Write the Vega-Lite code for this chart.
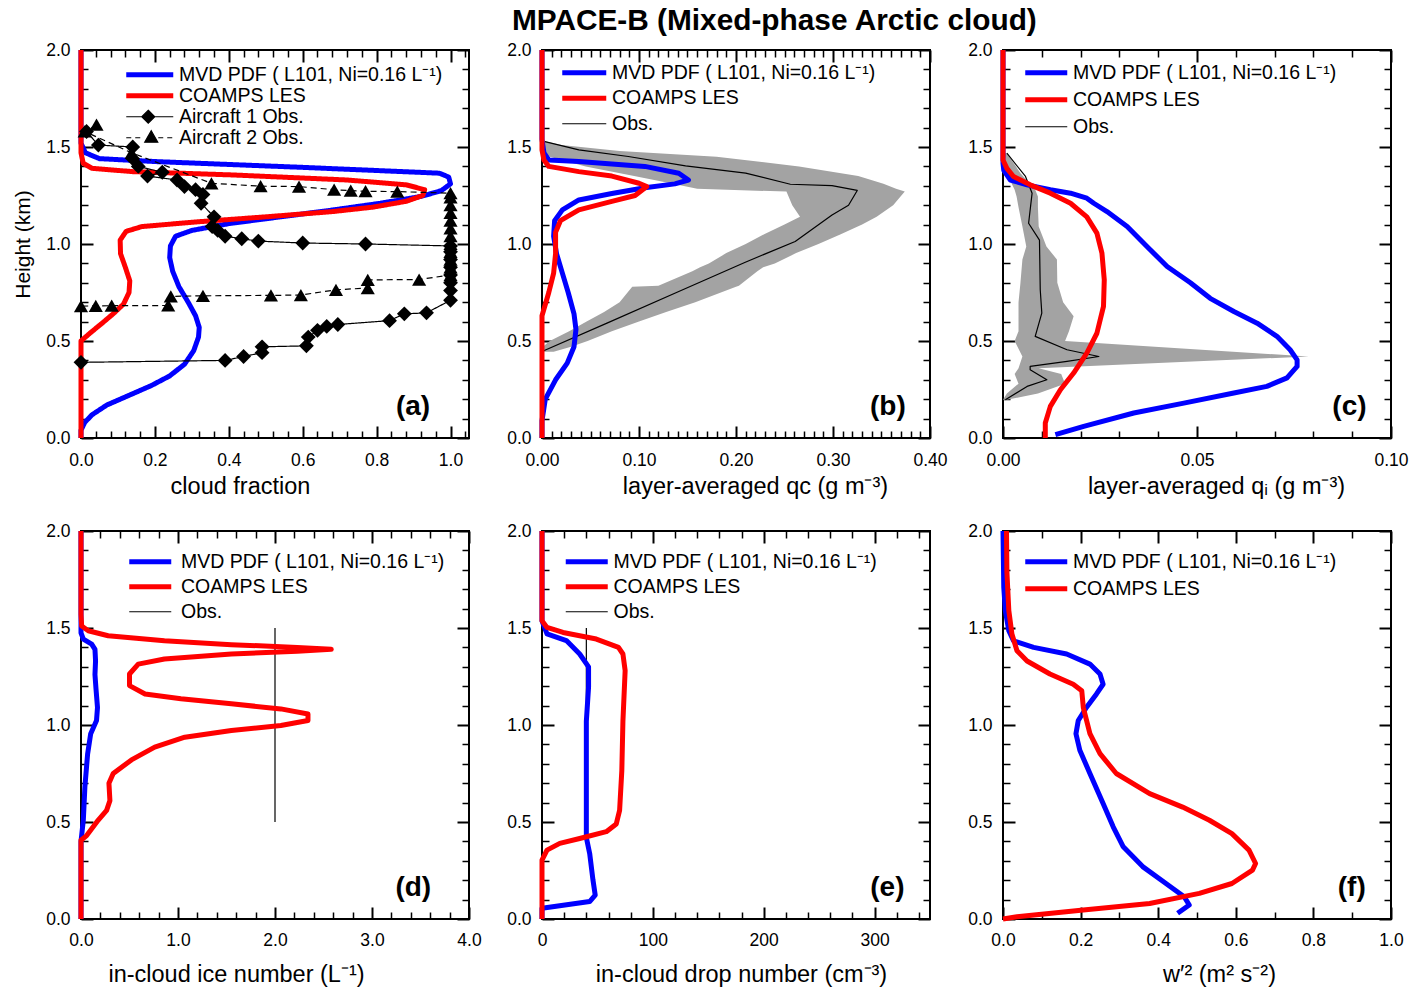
{
  "$schema": "https://vega.github.io/schema/vega-lite/v6.json",
  "background": "white",
  "padding": {"left": 11, "top": 6, "right": 5, "bottom": 5},
  "title": {"text": "MPACE-B (Mixed-phase Arctic cloud)", "font": "Liberation Sans", "fontSize": 29.8, "fontWeight": "bold", "color": "#000000", "anchor": "middle", "dx": 64, "offset": 4},
  "datasets": {
    "a": [
      {"s":"MVD","x":0,"h":0},{"s":"MVD","x":0,"h":0.04},{"s":"MVD","x":0.01,"h":0.08},{"s":"MVD","x":0.03,"h":0.12},{"s":"MVD","x":0.07,"h":0.17},{"s":"MVD","x":0.13,"h":0.22},{"s":"MVD","x":0.19,"h":0.27},{"s":"MVD","x":0.24,"h":0.32},{"s":"MVD","x":0.28,"h":0.38},{"s":"MVD","x":0.305,"h":0.45},{"s":"MVD","x":0.318,"h":0.52},{"s":"MVD","x":0.32,"h":0.57},{"s":"MVD","x":0.31,"h":0.63},{"s":"MVD","x":0.29,"h":0.7},{"s":"MVD","x":0.265,"h":0.78},{"s":"MVD","x":0.248,"h":0.86},{"s":"MVD","x":0.24,"h":0.93},{"s":"MVD","x":0.242,"h":0.99},{"s":"MVD","x":0.256,"h":1.04},{"s":"MVD","x":0.3,"h":1.07},{"s":"MVD","x":0.4,"h":1.105},{"s":"MVD","x":0.54,"h":1.14},{"s":"MVD","x":0.68,"h":1.175},{"s":"MVD","x":0.81,"h":1.21},{"s":"MVD","x":0.92,"h":1.245},{"s":"MVD","x":0.975,"h":1.275},{"s":"MVD","x":1,"h":1.31},{"s":"MVD","x":0.995,"h":1.345},{"s":"MVD","x":0.97,"h":1.365},{"s":"MVD","x":0.6,"h":1.395},{"s":"MVD","x":0.2,"h":1.425},{"s":"MVD","x":0.05,"h":1.44},{"s":"MVD","x":0.012,"h":1.47},{"s":"MVD","x":0,"h":1.52},{"s":"MVD","x":0,"h":2},
      {"s":"LES","x":0,"h":0},{"s":"LES","x":0,"h":0.5},{"s":"LES","x":0.024,"h":0.54},{"s":"LES","x":0.056,"h":0.59},{"s":"LES","x":0.087,"h":0.64},{"s":"LES","x":0.115,"h":0.69},{"s":"LES","x":0.13,"h":0.75},{"s":"LES","x":0.132,"h":0.81},{"s":"LES","x":0.12,"h":0.88},{"s":"LES","x":0.107,"h":0.95},{"s":"LES","x":0.106,"h":1.02},{"s":"LES","x":0.122,"h":1.065},{"s":"LES","x":0.165,"h":1.09},{"s":"LES","x":0.32,"h":1.115},{"s":"LES","x":0.5,"h":1.14},{"s":"LES","x":0.68,"h":1.167},{"s":"LES","x":0.79,"h":1.19},{"s":"LES","x":0.88,"h":1.22},{"s":"LES","x":0.925,"h":1.25},{"s":"LES","x":0.93,"h":1.28},{"s":"LES","x":0.88,"h":1.305},{"s":"LES","x":0.72,"h":1.33},{"s":"LES","x":0.41,"h":1.356},{"s":"LES","x":0.14,"h":1.373},{"s":"LES","x":0.03,"h":1.39},{"s":"LES","x":0.006,"h":1.416},{"s":"LES","x":0,"h":1.47},{"s":"LES","x":0,"h":2},
      {"s":"Air1","x":0,"h":0.39},{"s":"Air1","x":0.39,"h":0.4},{"s":"Air1","x":0.44,"h":0.42},{"s":"Air1","x":0.49,"h":0.44},{"s":"Air1","x":0.49,"h":0.47},{"s":"Air1","x":0.61,"h":0.475},{"s":"Air1","x":0.615,"h":0.52},{"s":"Air1","x":0.64,"h":0.555},{"s":"Air1","x":0.665,"h":0.575},{"s":"Air1","x":0.695,"h":0.585},{"s":"Air1","x":0.835,"h":0.605},{"s":"Air1","x":0.875,"h":0.64},{"s":"Air1","x":0.935,"h":0.645},{"s":"Air1","x":1,"h":0.71},{"s":"Air1","x":1,"h":0.76},{"s":"Air1","x":1,"h":0.8},{"s":"Air1","x":1,"h":0.84},{"s":"Air1","x":1,"h":0.88},{"s":"Air1","x":1,"h":0.92},{"s":"Air1","x":1,"h":0.96},{"s":"Air1","x":1,"h":0.99},{"s":"Air1","x":0.77,"h":1.0},{"s":"Air1","x":0.6,"h":1.005},{"s":"Air1","x":0.48,"h":1.015},{"s":"Air1","x":0.435,"h":1.027},{"s":"Air1","x":0.39,"h":1.04},{"s":"Air1","x":0.37,"h":1.07},{"s":"Air1","x":0.355,"h":1.09},{"s":"Air1","x":0.36,"h":1.14},{"s":"Air1","x":0.325,"h":1.21},{"s":"Air1","x":0.33,"h":1.255},{"s":"Air1","x":0.31,"h":1.28},{"s":"Air1","x":0.28,"h":1.296},{"s":"Air1","x":0.26,"h":1.33},{"s":"Air1","x":0.18,"h":1.35},{"s":"Air1","x":0.22,"h":1.37},{"s":"Air1","x":0.155,"h":1.4},{"s":"Air1","x":0.14,"h":1.44},{"s":"Air1","x":0.14,"h":1.5},{"s":"Air1","x":0.047,"h":1.51},{"s":"Air1","x":0.015,"h":1.58},
      {"s":"Air2","x":0,"h":0.68},{"s":"Air2","x":0.04,"h":0.681},{"s":"Air2","x":0.083,"h":0.682},{"s":"Air2","x":0.236,"h":0.683},{"s":"Air2","x":0.243,"h":0.73},{"s":"Air2","x":0.33,"h":0.733},{"s":"Air2","x":0.514,"h":0.735},{"s":"Air2","x":0.595,"h":0.737},{"s":"Air2","x":0.69,"h":0.764},{"s":"Air2","x":0.776,"h":0.773},{"s":"Air2","x":0.776,"h":0.815},{"s":"Air2","x":0.915,"h":0.817},{"s":"Air2","x":1,"h":0.84},{"s":"Air2","x":1,"h":0.88},{"s":"Air2","x":1,"h":0.92},{"s":"Air2","x":1,"h":0.96},{"s":"Air2","x":1,"h":1.0},{"s":"Air2","x":1,"h":1.04},{"s":"Air2","x":1,"h":1.08},{"s":"Air2","x":1,"h":1.12},{"s":"Air2","x":1,"h":1.16},{"s":"Air2","x":1,"h":1.2},{"s":"Air2","x":1,"h":1.24},{"s":"Air2","x":1,"h":1.262},{"s":"Air2","x":0.856,"h":1.27},{"s":"Air2","x":0.77,"h":1.272},{"s":"Air2","x":0.73,"h":1.275},{"s":"Air2","x":0.685,"h":1.28},{"s":"Air2","x":0.59,"h":1.296},{"s":"Air2","x":0.486,"h":1.298},{"s":"Air2","x":0.353,"h":1.313},{"s":"Air2","x":0.137,"h":1.47},{"s":"Air2","x":0.01,"h":1.58},{"s":"Air2","x":0.042,"h":1.615}
    ],
    "b": [
      {"s":"Obs","x":0,"h":0.446},{"s":"Obs","x":0.067,"h":0.592},{"s":"Obs","x":0.141,"h":0.755},{"s":"Obs","x":0.209,"h":0.905},{"s":"Obs","x":0.261,"h":1.013},{"s":"Obs","x":0.299,"h":1.15},{"s":"Obs","x":0.316,"h":1.2},{"s":"Obs","x":0.325,"h":1.276},{"s":"Obs","x":0.299,"h":1.301},{"s":"Obs","x":0.256,"h":1.308},{"s":"Obs","x":0.21,"h":1.365},{"s":"Obs","x":0.148,"h":1.403},{"s":"Obs","x":0.089,"h":1.451},{"s":"Obs","x":0.038,"h":1.485},{"s":"Obs","x":0.003,"h":1.528},
      {"s":"MVD","x":0,"h":0},{"s":"MVD","x":0,"h":0.09},{"s":"MVD","x":0.0034,"h":0.2},{"s":"MVD","x":0.014,"h":0.3},{"s":"MVD","x":0.026,"h":0.386},{"s":"MVD","x":0.033,"h":0.47},{"s":"MVD","x":0.035,"h":0.56},{"s":"MVD","x":0.033,"h":0.64},{"s":"MVD","x":0.027,"h":0.75},{"s":"MVD","x":0.021,"h":0.85},{"s":"MVD","x":0.015,"h":0.95},{"s":"MVD","x":0.012,"h":1.04},{"s":"MVD","x":0.013,"h":1.12},{"s":"MVD","x":0.021,"h":1.176},{"s":"MVD","x":0.038,"h":1.227},{"s":"MVD","x":0.072,"h":1.26},{"s":"MVD","x":0.106,"h":1.29},{"s":"MVD","x":0.137,"h":1.31},{"s":"MVD","x":0.151,"h":1.33},{"s":"MVD","x":0.141,"h":1.365},{"s":"MVD","x":0.106,"h":1.4},{"s":"MVD","x":0.038,"h":1.425},{"s":"MVD","x":0.007,"h":1.433},{"s":"MVD","x":0.002,"h":1.47},{"s":"MVD","x":0,"h":1.54},{"s":"MVD","x":0,"h":2},
      {"s":"LES","x":0,"h":0},{"s":"LES","x":0,"h":0.63},{"s":"LES","x":0.007,"h":0.75},{"s":"LES","x":0.012,"h":0.85},{"s":"LES","x":0.014,"h":0.95},{"s":"LES","x":0.014,"h":1.06},{"s":"LES","x":0.019,"h":1.12},{"s":"LES","x":0.038,"h":1.176},{"s":"LES","x":0.072,"h":1.22},{"s":"LES","x":0.096,"h":1.25},{"s":"LES","x":0.108,"h":1.296},{"s":"LES","x":0.1,"h":1.313},{"s":"LES","x":0.072,"h":1.35},{"s":"LES","x":0.038,"h":1.373},{"s":"LES","x":0.007,"h":1.4},{"s":"LES","x":0.002,"h":1.433},{"s":"LES","x":0,"h":1.485},{"s":"LES","x":0,"h":2}
    ],
    "b_band": [
      {"h":0.445,"lo":0,"hi":0.012},{"h":0.47,"lo":0.001,"hi":0.03},{"h":0.5,"lo":0.008,"hi":0.047},{"h":0.55,"lo":0.028,"hi":0.072},{"h":0.6,"lo":0.046,"hi":0.1},{"h":0.65,"lo":0.064,"hi":0.128},{"h":0.7,"lo":0.08,"hi":0.158},{"h":0.78,"lo":0.093,"hi":0.2},{"h":0.785,"lo":0.12,"hi":0.203},{"h":0.86,"lo":0.155,"hi":0.222},{"h":0.88,"lo":0.163,"hi":0.228},{"h":0.9,"lo":0.172,"hi":0.24},{"h":0.953,"lo":0.19,"hi":0.262},{"h":1.0,"lo":0.21,"hi":0.285},{"h":1.05,"lo":0.229,"hi":0.308},{"h":1.1,"lo":0.25,"hi":0.33},{"h":1.14,"lo":0.266,"hi":0.345},{"h":1.2,"lo":0.258,"hi":0.362},{"h":1.27,"lo":0.252,"hi":0.374},{"h":1.285,"lo":0.16,"hi":0.365},{"h":1.31,"lo":0.135,"hi":0.352},{"h":1.35,"lo":0.095,"hi":0.326},{"h":1.4,"lo":0.045,"hi":0.265},{"h":1.45,"lo":0.008,"hi":0.18},{"h":1.48,"lo":0,"hi":0.08},{"h":1.51,"lo":0,"hi":0.02},{"h":1.53,"lo":0,"hi":0.003}
    ],
    "c": [
      {"s":"Obs","x":0.0006,"h":0.197},{"s":"Obs","x":0.0062,"h":0.266},{"s":"Obs","x":0.0113,"h":0.3},{"s":"Obs","x":0.007,"h":0.352},{"s":"Obs","x":0.007,"h":0.369},{"s":"Obs","x":0.0165,"h":0.395},{"s":"Obs","x":0.0247,"h":0.42},{"s":"Obs","x":0.0165,"h":0.455},{"s":"Obs","x":0.0083,"h":0.524},{"s":"Obs","x":0.01,"h":0.644},{"s":"Obs","x":0.0096,"h":0.764},{"s":"Obs","x":0.0094,"h":1.02},{"s":"Obs","x":0.0066,"h":1.107},{"s":"Obs","x":0.0075,"h":1.262},{"s":"Obs","x":0.0058,"h":1.348},{"s":"Obs","x":0.001,"h":1.468},
      {"s":"MVD","x":0.0135,"h":0.017},{"s":"MVD","x":0.0208,"h":0.06},{"s":"MVD","x":0.0337,"h":0.129},{"s":"MVD","x":0.0466,"h":0.18},{"s":"MVD","x":0.0595,"h":0.232},{"s":"MVD","x":0.068,"h":0.266},{"s":"MVD","x":0.0732,"h":0.31},{"s":"MVD","x":0.0758,"h":0.369},{"s":"MVD","x":0.0758,"h":0.403},{"s":"MVD","x":0.074,"h":0.455},{"s":"MVD","x":0.0706,"h":0.524},{"s":"MVD","x":0.0655,"h":0.592},{"s":"MVD","x":0.0595,"h":0.652},{"s":"MVD","x":0.0534,"h":0.72},{"s":"MVD","x":0.0483,"h":0.8},{"s":"MVD","x":0.0423,"h":0.884},{"s":"MVD","x":0.0371,"h":0.987},{"s":"MVD","x":0.032,"h":1.09},{"s":"MVD","x":0.0268,"h":1.167},{"s":"MVD","x":0.0234,"h":1.21},{"s":"MVD","x":0.0216,"h":1.236},{"s":"MVD","x":0.0174,"h":1.262},{"s":"MVD","x":0.0122,"h":1.28},{"s":"MVD","x":0.0062,"h":1.305},{"s":"MVD","x":0.0019,"h":1.33},{"s":"MVD","x":0.0002,"h":1.38},{"s":"MVD","x":0,"h":1.416},{"s":"MVD","x":0,"h":2},
      {"s":"LES","x":0.0109,"h":0},{"s":"LES","x":0.0109,"h":0.077},{"s":"LES","x":0.0122,"h":0.163},{"s":"LES","x":0.0148,"h":0.249},{"s":"LES","x":0.0182,"h":0.335},{"s":"LES","x":0.0216,"h":0.438},{"s":"LES","x":0.0242,"h":0.54},{"s":"LES","x":0.0259,"h":0.678},{"s":"LES","x":0.0261,"h":0.815},{"s":"LES","x":0.0255,"h":0.953},{"s":"LES","x":0.0242,"h":1.056},{"s":"LES","x":0.0216,"h":1.14},{"s":"LES","x":0.0174,"h":1.21},{"s":"LES","x":0.0122,"h":1.262},{"s":"LES","x":0.007,"h":1.305},{"s":"LES","x":0.0027,"h":1.348},{"s":"LES","x":0.001,"h":1.39},{"s":"LES","x":0,"h":1.433},{"s":"LES","x":0,"h":2}
    ],
    "c_band": [
      {"h":0.197,"lo":0,"hi":0.001},{"h":0.23,"lo":0.001,"hi":0.009},{"h":0.28,"lo":0.004,"hi":0.016},{"h":0.33,"lo":0.003,"hi":0.015},{"h":0.36,"lo":0.004,"hi":0.0092},{"h":0.42,"lo":0.005,"hi":0.0788},{"h":0.5,"lo":0.003,"hi":0.016},{"h":0.55,"lo":0.004,"hi":0.017},{"h":0.627,"lo":0.004,"hi":0.0182},{"h":0.7,"lo":0.004,"hi":0.0155},{"h":0.8,"lo":0.0045,"hi":0.014},{"h":0.92,"lo":0.005,"hi":0.0139},{"h":0.987,"lo":0.006,"hi":0.0112},{"h":1.09,"lo":0.005,"hi":0.0092},{"h":1.19,"lo":0.004,"hi":0.009},{"h":1.245,"lo":0.0035,"hi":0.009},{"h":1.28,"lo":0.003,"hi":0.0083},{"h":1.365,"lo":0.001,"hi":0.0045},{"h":1.468,"lo":0.0005,"hi":0.001}
    ],
    "d": [
      {"s":"Obs","x":2,"h":0.5},{"s":"Obs","x":2,"h":1.5},
      {"s":"MVD","x":0,"h":0},{"s":"MVD","x":0,"h":0.4},{"s":"MVD","x":0.024,"h":0.51},{"s":"MVD","x":0.04,"h":0.68},{"s":"MVD","x":0.068,"h":0.85},{"s":"MVD","x":0.1,"h":0.955},{"s":"MVD","x":0.16,"h":1.023},{"s":"MVD","x":0.17,"h":1.09},{"s":"MVD","x":0.154,"h":1.19},{"s":"MVD","x":0.144,"h":1.26},{"s":"MVD","x":0.15,"h":1.33},{"s":"MVD","x":0.144,"h":1.39},{"s":"MVD","x":0.11,"h":1.417},{"s":"MVD","x":0.024,"h":1.443},{"s":"MVD","x":0,"h":1.475},{"s":"MVD","x":0,"h":2},
      {"s":"LES","x":0,"h":0},{"s":"LES","x":0,"h":0.406},{"s":"LES","x":0.058,"h":0.43},{"s":"LES","x":0.178,"h":0.51},{"s":"LES","x":0.264,"h":0.56},{"s":"LES","x":0.298,"h":0.61},{"s":"LES","x":0.288,"h":0.7},{"s":"LES","x":0.332,"h":0.75},{"s":"LES","x":0.52,"h":0.82},{"s":"LES","x":0.76,"h":0.886},{"s":"LES","x":1.07,"h":0.937},{"s":"LES","x":1.55,"h":0.972},{"s":"LES","x":2.06,"h":0.997},{"s":"LES","x":2.34,"h":1.023},{"s":"LES","x":2.34,"h":1.057},{"s":"LES","x":2.06,"h":1.083},{"s":"LES","x":1.55,"h":1.109},{"s":"LES","x":1.03,"h":1.135},{"s":"LES","x":0.66,"h":1.16},{"s":"LES","x":0.5,"h":1.203},{"s":"LES","x":0.5,"h":1.263},{"s":"LES","x":0.59,"h":1.314},{"s":"LES","x":0.86,"h":1.34},{"s":"LES","x":1.55,"h":1.366},{"s":"LES","x":2.23,"h":1.38},{"s":"LES","x":2.58,"h":1.39},{"s":"LES","x":2.23,"h":1.4},{"s":"LES","x":1.55,"h":1.414},{"s":"LES","x":0.86,"h":1.434},{"s":"LES","x":0.28,"h":1.46},{"s":"LES","x":0.075,"h":1.486},{"s":"LES","x":0.007,"h":1.51},{"s":"LES","x":0,"h":1.57},{"s":"LES","x":0,"h":2}
    ],
    "e": [
      {"s":"Obs","x":40,"h":0.5},{"s":"Obs","x":40,"h":1.5},
      {"s":"MVD","x":0,"h":0},{"s":"MVD","x":0,"h":0.055},{"s":"MVD","x":43,"h":0.09},{"s":"MVD","x":48,"h":0.123},{"s":"MVD","x":46,"h":0.2},{"s":"MVD","x":43,"h":0.338},{"s":"MVD","x":40,"h":0.42},{"s":"MVD","x":40,"h":0.68},{"s":"MVD","x":40,"h":1.02},{"s":"MVD","x":42,"h":1.195},{"s":"MVD","x":42,"h":1.3},{"s":"MVD","x":34,"h":1.366},{"s":"MVD","x":22,"h":1.435},{"s":"MVD","x":4.5,"h":1.47},{"s":"MVD","x":0,"h":1.537},{"s":"MVD","x":0,"h":2},
      {"s":"LES","x":0,"h":0},{"s":"LES","x":0,"h":0.303},{"s":"LES","x":4.5,"h":0.355},{"s":"LES","x":16,"h":0.39},{"s":"LES","x":34,"h":0.415},{"s":"LES","x":58,"h":0.45},{"s":"LES","x":67,"h":0.49},{"s":"LES","x":70,"h":0.56},{"s":"LES","x":72,"h":0.765},{"s":"LES","x":73,"h":1.02},{"s":"LES","x":75,"h":1.28},{"s":"LES","x":73,"h":1.366},{"s":"LES","x":69,"h":1.4},{"s":"LES","x":49,"h":1.443},{"s":"LES","x":19,"h":1.477},{"s":"LES","x":4.5,"h":1.503},{"s":"LES","x":0,"h":1.537},{"s":"LES","x":0,"h":2}
    ],
    "f": [
      {"s":"MVD","x":0.45,"h":0.03},{"s":"MVD","x":0.48,"h":0.072},{"s":"MVD","x":0.467,"h":0.115},{"s":"MVD","x":0.42,"h":0.183},{"s":"MVD","x":0.36,"h":0.27},{"s":"MVD","x":0.31,"h":0.372},{"s":"MVD","x":0.284,"h":0.475},{"s":"MVD","x":0.258,"h":0.595},{"s":"MVD","x":0.224,"h":0.75},{"s":"MVD","x":0.198,"h":0.87},{"s":"MVD","x":0.188,"h":0.955},{"s":"MVD","x":0.194,"h":1.023},{"s":"MVD","x":0.215,"h":1.09},{"s":"MVD","x":0.241,"h":1.16},{"s":"MVD","x":0.258,"h":1.21},{"s":"MVD","x":0.25,"h":1.263},{"s":"MVD","x":0.224,"h":1.314},{"s":"MVD","x":0.164,"h":1.366},{"s":"MVD","x":0.079,"h":1.4},{"s":"MVD","x":0.027,"h":1.434},{"s":"MVD","x":0.015,"h":1.486},{"s":"MVD","x":0.006,"h":1.59},{"s":"MVD","x":0.002,"h":1.71},{"s":"MVD","x":0,"h":2},
      {"s":"LES","x":0,"h":0},{"s":"LES","x":0.036,"h":0.012},{"s":"LES","x":0.207,"h":0.046},{"s":"LES","x":0.378,"h":0.08},{"s":"LES","x":0.506,"h":0.132},{"s":"LES","x":0.59,"h":0.183},{"s":"LES","x":0.643,"h":0.252},{"s":"LES","x":0.651,"h":0.286},{"s":"LES","x":0.634,"h":0.355},{"s":"LES","x":0.59,"h":0.44},{"s":"LES","x":0.532,"h":0.509},{"s":"LES","x":0.463,"h":0.577},{"s":"LES","x":0.378,"h":0.646},{"s":"LES","x":0.292,"h":0.75},{"s":"LES","x":0.25,"h":0.852},{"s":"LES","x":0.224,"h":0.955},{"s":"LES","x":0.207,"h":1.09},{"s":"LES","x":0.203,"h":1.177},{"s":"LES","x":0.181,"h":1.21},{"s":"LES","x":0.121,"h":1.263},{"s":"LES","x":0.062,"h":1.33},{"s":"LES","x":0.036,"h":1.383},{"s":"LES","x":0.023,"h":1.469},{"s":"LES","x":0.015,"h":1.59},{"s":"LES","x":0.01,"h":1.79},{"s":"LES","x":0.009,"h":2}
    ]
  },
  "columns": 3,
  "spacing": {"row": 93, "column": 73},
  "bounds": "flush",
  "concat": [
    {
      "width": 388, "height": 388,
      "data": {"name": "a"},
      "layer": [
        {
          "mark": {"type": "line", "orient": "horizontal", "strokeJoin": "round"},
          "encoding": {
            "x": {"field": "x", "type": "quantitative", "scale": {"domain": [0, 1.05], "nice": false, "zero": false},
              "axis": {"orient": "bottom", "values": [0,0.04,0.08,0.12,0.16,0.2,0.24,0.28,0.32,0.36,0.4,0.44,0.48,0.52,0.56,0.6,0.64,0.68,0.72,0.76,0.8,0.84,0.88,0.92,0.96,1,1.04],
                "tickSize": {"condition": {"test": "abs(datum.value*5-round(datum.value*5))<0.001", "value": -12}, "value": -7},
                "tickWidth": {"condition": {"test": "abs(datum.value*5-round(datum.value*5))<0.001", "value": 2}, "value": 1.5},
                "labelExpr": "abs(datum.value*5-round(datum.value*5))<0.001 ? format(datum.value,'.1f') : ''",
                "labelPadding": 25, "title": "cloud fraction", "titlePadding": 1, "titleX": 159}},
            "y": {"field": "h", "type": "quantitative", "scale": {"domain": [0, 2], "nice": false},
              "axis": {"orient": "left", "values": [0,0.1,0.2,0.3,0.4,0.5,0.6,0.7,0.8,0.9,1,1.1,1.2,1.3,1.4,1.5,1.6,1.7,1.8,1.9,2],
                "tickSize": {"condition": {"test": "abs(datum.value*2-round(datum.value*2))<0.001", "value": -12}, "value": -7},
                "tickWidth": {"condition": {"test": "abs(datum.value*2-round(datum.value*2))<0.001", "value": 2}, "value": 1.5},
                "labelExpr": "abs(datum.value*2-round(datum.value*2))<0.001 ? format(datum.value,'.1f') : ''",
                "labelPadding": 23, "title": "Height (km)", "titleFontSize": 21, "titlePadding": 12}},
            "color": {"field": "s", "type": "nominal",
              "scale": {"domain": ["MVD", "LES", "Air1", "Air2"], "range": ["#0000ff", "#ff0000", "#000000", "#000000"]},
              "legend": {"orient": "none", "legendX": 72.5, "legendY": 15, "title": null, "padding": 0, "rowPadding": 0,
                "symbolSize": 100, "symbolStrokeWidth": 5, "labelOffset": 6, "labelLimit": 400, "labelFont": "Liberation Sans", "labelFontSize": 19.5, "labelColor": "#000000",
                "labelExpr": "datum.value == 'MVD' ? 'MVD PDF ( L101, Ni=0.16 L⁻¹)' : datum.value == 'LES' ? 'COAMPS LES' : datum.value == 'Air1' ? 'Aircraft 1 Obs.' : 'Aircraft 2 Obs.'",
                "encode": {"symbols": {"update": {
                  "shape": {"signal": "datum.value == 'Air1' ? 'M-7.4,0H2M-3,-1.3L-1.7,0L-3,1.3L-4.3,0Z' : datum.value == 'Air2' ? 'M-7.4,0H-6.4M-5.6,0H-4.6M-1,0H0M0.8,0H1.8M-2.4,-1.4L-1.1,0.9L-3.7,0.9Z' : 'M-7.4,0H2'"},
                  "strokeWidth": {"signal": "datum.value == 'MVD' || datum.value == 'LES' ? 5 : 1.2"},
                  "fill": {"value": "#000000"}}}}}},
            "strokeWidth": {"condition": {"test": "datum.s == 'Air1' || datum.s == 'Air2'", "value": 1.2}, "value": 5},
            "strokeDash": {"condition": {"test": "datum.s == 'Air2'", "value": [6, 4]}, "value": [1, 0]}
          }
        },
        {
          "transform": [{"filter": "datum.s == 'Air1'"}],
          "mark": {"type": "point", "shape": "diamond", "filled": true, "size": 220, "color": "#000000", "opacity": 1},
          "encoding": {"x": {"field": "x", "type": "quantitative", "axis": null}, "y": {"field": "h", "type": "quantitative", "axis": null}}
        },
        {
          "transform": [{"filter": "datum.s == 'Air2'"}],
          "mark": {"type": "point", "shape": "triangle-up", "filled": true, "size": 200, "color": "#000000", "opacity": 1},
          "encoding": {"x": {"field": "x", "type": "quantitative", "axis": null}, "y": {"field": "h", "type": "quantitative", "axis": null}}
        },
        {
          "data": {"values": [{}]},
          "mark": {"type": "text", "text": "(a)", "align": "right", "baseline": "alphabetic", "font": "Liberation Sans", "fontSize": 28, "fontWeight": "bold", "color": "#000000"},
          "encoding": {
            "x": {"datum": 0.945, "type": "quantitative",
              "axis": {"orient": "top", "values": [0,0.04,0.08,0.12,0.16,0.2,0.24,0.28,0.32,0.36,0.4,0.44,0.48,0.52,0.56,0.6,0.64,0.68,0.72,0.76,0.8,0.84,0.88,0.92,0.96,1,1.04],
                "tickSize": {"condition": {"test": "abs(datum.value*5-round(datum.value*5))<0.001", "value": -12}, "value": -7},
                "tickWidth": {"condition": {"test": "abs(datum.value*5-round(datum.value*5))<0.001", "value": 2}, "value": 1.5},
                "labels": false, "title": null}},
            "y": {"datum": 0.12, "type": "quantitative",
              "axis": {"orient": "right", "values": [0,0.1,0.2,0.3,0.4,0.5,0.6,0.7,0.8,0.9,1,1.1,1.2,1.3,1.4,1.5,1.6,1.7,1.8,1.9,2],
                "tickSize": {"condition": {"test": "abs(datum.value*2-round(datum.value*2))<0.001", "value": -12}, "value": -7},
                "tickWidth": {"condition": {"test": "abs(datum.value*2-round(datum.value*2))<0.001", "value": 2}, "value": 1.5},
                "labels": false, "title": null}}
          }
        }
      ],
      "resolve": {"axis": {"x": "independent", "y": "independent"}}
    },
    {
      "width": 388, "height": 388,
      "layer": [
        {
          "data": {"name": "b_band"},
          "mark": {"type": "area", "orient": "horizontal", "color": "#a3a3a3", "opacity": 1},
          "encoding": {
            "x": {"field": "lo", "type": "quantitative", "scale": {"domain": [0, 0.4], "nice": false, "zero": false}, "axis": null},
            "x2": {"field": "hi"},
            "y": {"field": "h", "type": "quantitative", "scale": {"domain": [0, 2], "nice": false}, "axis": null}
          }
        },
        {
          "data": {"name": "b"},
          "mark": {"type": "line", "orient": "horizontal", "strokeJoin": "round"},
          "encoding": {
            "x": {"field": "x", "type": "quantitative",
              "axis": {"orient": "bottom", "values": [0,0.01,0.02,0.03,0.04,0.05,0.06,0.07,0.08,0.09,0.1,0.11,0.12,0.13,0.14,0.15,0.16,0.17,0.18,0.19,0.2,0.21,0.22,0.23,0.24,0.25,0.26,0.27,0.28,0.29,0.3,0.31,0.32,0.33,0.34,0.35,0.36,0.37,0.38,0.39,0.4],
                "tickSize": {"condition": {"test": "abs(datum.value*10-round(datum.value*10))<0.001", "value": -12}, "value": -7},
                "tickWidth": {"condition": {"test": "abs(datum.value*10-round(datum.value*10))<0.001", "value": 2}, "value": 1.5},
                "labelExpr": "abs(datum.value*10-round(datum.value*10))<0.001 ? format(datum.value,'.2f') : ''",
                "labelPadding": 25, "title": "layer-averaged qc (g m⁻³)", "titlePadding": 1, "titleX": 213}},
            "y": {"field": "h", "type": "quantitative",
              "axis": {"orient": "left", "values": [0,0.1,0.2,0.3,0.4,0.5,0.6,0.7,0.8,0.9,1,1.1,1.2,1.3,1.4,1.5,1.6,1.7,1.8,1.9,2],
                "tickSize": {"condition": {"test": "abs(datum.value*2-round(datum.value*2))<0.001", "value": -12}, "value": -7},
                "tickWidth": {"condition": {"test": "abs(datum.value*2-round(datum.value*2))<0.001", "value": 2}, "value": 1.5},
                "labelExpr": "abs(datum.value*2-round(datum.value*2))<0.001 ? format(datum.value,'.1f') : ''",
                "labelPadding": 23, "title": null}},
            "color": {"field": "s", "type": "nominal",
              "scale": {"domain": ["MVD", "LES", "Obs"], "range": ["#0000ff", "#ff0000", "#000000"]},
              "legend": {"orient": "none", "legendX": 44.5, "legendY": 13, "title": null, "padding": 0, "rowPadding": 4.5,
                "symbolSize": 100, "symbolStrokeWidth": 5, "labelOffset": 6, "labelLimit": 400, "labelFont": "Liberation Sans", "labelFontSize": 19.5, "labelColor": "#000000",
                "labelExpr": "datum.value == 'MVD' ? 'MVD PDF ( L101, Ni=0.16 L⁻¹)' : datum.value == 'LES' ? 'COAMPS LES' : 'Obs.'",
                "encode": {"symbols": {"update": {
                  "shape": {"value": "M-6.8,0H2"},
                  "strokeWidth": {"signal": "datum.value == 'Obs' ? 1.2 : 5"},
                  "fill": {"value": "#000000"}}}}}},
            "strokeWidth": {"condition": {"test": "datum.s == 'Obs'", "value": 1.2}, "value": 5}
          }
        },
        {
          "data": {"values": [{}]},
          "mark": {"type": "text", "text": "(b)", "align": "right", "baseline": "alphabetic", "font": "Liberation Sans", "fontSize": 28, "fontWeight": "bold", "color": "#000000"},
          "encoding": {
            "x": {"datum": 0.375, "type": "quantitative",
              "axis": {"orient": "top", "values": [0,0.01,0.02,0.03,0.04,0.05,0.06,0.07,0.08,0.09,0.1,0.11,0.12,0.13,0.14,0.15,0.16,0.17,0.18,0.19,0.2,0.21,0.22,0.23,0.24,0.25,0.26,0.27,0.28,0.29,0.3,0.31,0.32,0.33,0.34,0.35,0.36,0.37,0.38,0.39,0.4],
                "tickSize": {"condition": {"test": "abs(datum.value*10-round(datum.value*10))<0.001", "value": -12}, "value": -7},
                "tickWidth": {"condition": {"test": "abs(datum.value*10-round(datum.value*10))<0.001", "value": 2}, "value": 1.5},
                "labels": false, "title": null}},
            "y": {"datum": 0.12, "type": "quantitative",
              "axis": {"orient": "right", "values": [0,0.1,0.2,0.3,0.4,0.5,0.6,0.7,0.8,0.9,1,1.1,1.2,1.3,1.4,1.5,1.6,1.7,1.8,1.9,2],
                "tickSize": {"condition": {"test": "abs(datum.value*2-round(datum.value*2))<0.001", "value": -12}, "value": -7},
                "tickWidth": {"condition": {"test": "abs(datum.value*2-round(datum.value*2))<0.001", "value": 2}, "value": 1.5},
                "labels": false, "title": null}}
          }
        }
      ],
      "resolve": {"axis": {"x": "independent", "y": "independent"}}
    },
    {
      "width": 388, "height": 388,
      "layer": [
        {
          "data": {"name": "c_band"},
          "mark": {"type": "area", "orient": "horizontal", "color": "#a3a3a3", "opacity": 1},
          "encoding": {
            "x": {"field": "lo", "type": "quantitative", "scale": {"domain": [0, 0.1], "nice": false, "zero": false}, "axis": null},
            "x2": {"field": "hi"},
            "y": {"field": "h", "type": "quantitative", "scale": {"domain": [0, 2], "nice": false}, "axis": null}
          }
        },
        {
          "data": {"name": "c"},
          "mark": {"type": "line", "orient": "horizontal", "strokeJoin": "round"},
          "encoding": {
            "x": {"field": "x", "type": "quantitative",
              "axis": {"orient": "bottom", "values": [0,0.01,0.02,0.03,0.04,0.05,0.06,0.07,0.08,0.09,0.1],
                "tickSize": {"condition": {"test": "abs(datum.value*20-round(datum.value*20))<0.001", "value": -12}, "value": -7},
                "tickWidth": {"condition": {"test": "abs(datum.value*20-round(datum.value*20))<0.001", "value": 2}, "value": 1.5},
                "labelExpr": "abs(datum.value*20-round(datum.value*20))<0.001 ? format(datum.value,'.2f') : ''",
                "labelPadding": 25, "title": "layer-averaged qᵢ (g m⁻³)", "titlePadding": 1, "titleX": 213}},
            "y": {"field": "h", "type": "quantitative",
              "axis": {"orient": "left", "values": [0,0.1,0.2,0.3,0.4,0.5,0.6,0.7,0.8,0.9,1,1.1,1.2,1.3,1.4,1.5,1.6,1.7,1.8,1.9,2],
                "tickSize": {"condition": {"test": "abs(datum.value*2-round(datum.value*2))<0.001", "value": -12}, "value": -7},
                "tickWidth": {"condition": {"test": "abs(datum.value*2-round(datum.value*2))<0.001", "value": 2}, "value": 1.5},
                "labelExpr": "abs(datum.value*2-round(datum.value*2))<0.001 ? format(datum.value,'.1f') : ''",
                "labelPadding": 23, "title": null}},
            "color": {"field": "s", "type": "nominal",
              "scale": {"domain": ["MVD", "LES", "Obs"], "range": ["#0000ff", "#ff0000", "#000000"]},
              "legend": {"orient": "none", "legendX": 44.5, "legendY": 13, "title": null, "padding": 0, "rowPadding": 6,
                "symbolSize": 100, "symbolStrokeWidth": 5, "labelOffset": 6, "labelLimit": 400, "labelFont": "Liberation Sans", "labelFontSize": 19.5, "labelColor": "#000000",
                "labelExpr": "datum.value == 'MVD' ? 'MVD PDF ( L101, Ni=0.16 L⁻¹)' : datum.value == 'LES' ? 'COAMPS LES' : 'Obs.'",
                "encode": {"symbols": {"update": {
                  "shape": {"value": "M-6.4,0H2"},
                  "strokeWidth": {"signal": "datum.value == 'Obs' ? 1.2 : 5"},
                  "fill": {"value": "#000000"}}}}}},
            "strokeWidth": {"condition": {"test": "datum.s == 'Obs'", "value": 1.2}, "value": 5}
          }
        },
        {
          "data": {"values": [{}]},
          "mark": {"type": "text", "text": "(c)", "align": "right", "baseline": "alphabetic", "font": "Liberation Sans", "fontSize": 28, "fontWeight": "bold", "color": "#000000"},
          "encoding": {
            "x": {"datum": 0.0937, "type": "quantitative",
              "axis": {"orient": "top", "values": [0,0.01,0.02,0.03,0.04,0.05,0.06,0.07,0.08,0.09,0.1],
                "tickSize": {"condition": {"test": "abs(datum.value*20-round(datum.value*20))<0.001", "value": -12}, "value": -7},
                "tickWidth": {"condition": {"test": "abs(datum.value*20-round(datum.value*20))<0.001", "value": 2}, "value": 1.5},
                "labels": false, "title": null}},
            "y": {"datum": 0.12, "type": "quantitative",
              "axis": {"orient": "right", "values": [0,0.1,0.2,0.3,0.4,0.5,0.6,0.7,0.8,0.9,1,1.1,1.2,1.3,1.4,1.5,1.6,1.7,1.8,1.9,2],
                "tickSize": {"condition": {"test": "abs(datum.value*2-round(datum.value*2))<0.001", "value": -12}, "value": -7},
                "tickWidth": {"condition": {"test": "abs(datum.value*2-round(datum.value*2))<0.001", "value": 2}, "value": 1.5},
                "labels": false, "title": null}}
          }
        }
      ],
      "resolve": {"axis": {"x": "independent", "y": "independent"}}
    },
    {
      "width": 388, "height": 388,
      "layer": [
        {
          "data": {"name": "d"},
          "mark": {"type": "line", "orient": "horizontal", "strokeJoin": "round"},
          "encoding": {
            "x": {"field": "x", "type": "quantitative", "scale": {"domain": [0, 4], "nice": false, "zero": false},
              "axis": {"orient": "bottom", "values": [0,0.2,0.4,0.6,0.8,1,1.2,1.4,1.6,1.8,2,2.2,2.4,2.6,2.8,3,3.2,3.4,3.6,3.8,4],
                "tickSize": {"condition": {"test": "abs(datum.value-round(datum.value))<0.001", "value": -12}, "value": -7},
                "tickWidth": {"condition": {"test": "abs(datum.value-round(datum.value))<0.001", "value": 2}, "value": 1.5},
                "labelExpr": "abs(datum.value-round(datum.value))<0.001 ? format(datum.value,'.1f') : ''",
                "labelPadding": 24, "title": "in-cloud ice number (L⁻¹)", "titlePadding": 9, "titleX": 155}},
            "y": {"field": "h", "type": "quantitative", "scale": {"domain": [0, 2], "nice": false},
              "axis": {"orient": "left", "values": [0,0.1,0.2,0.3,0.4,0.5,0.6,0.7,0.8,0.9,1,1.1,1.2,1.3,1.4,1.5,1.6,1.7,1.8,1.9,2],
                "tickSize": {"condition": {"test": "abs(datum.value*2-round(datum.value*2))<0.001", "value": -12}, "value": -7},
                "tickWidth": {"condition": {"test": "abs(datum.value*2-round(datum.value*2))<0.001", "value": 2}, "value": 1.5},
                "labelExpr": "abs(datum.value*2-round(datum.value*2))<0.001 ? format(datum.value,'.1f') : ''",
                "labelPadding": 23, "title": null}},
            "color": {"field": "s", "type": "nominal",
              "scale": {"domain": ["MVD", "LES", "Obs"], "range": ["#0000ff", "#ff0000", "#000000"]},
              "legend": {"orient": "none", "legendX": 74.5, "legendY": 21, "title": null, "padding": 0, "rowPadding": 4,
                "symbolSize": 100, "symbolStrokeWidth": 5, "labelOffset": 6, "labelLimit": 400, "labelFont": "Liberation Sans", "labelFontSize": 19.5, "labelColor": "#000000",
                "labelExpr": "datum.value == 'MVD' ? 'MVD PDF ( L101, Ni=0.16 L⁻¹)' : datum.value == 'LES' ? 'COAMPS LES' : 'Obs.'",
                "encode": {"symbols": {"update": {
                  "shape": {"value": "M-7.2,0H1.2"},
                  "strokeWidth": {"signal": "datum.value == 'Obs' ? 1.2 : 5"},
                  "fill": {"value": "#000000"}}}}}},
            "strokeWidth": {"condition": {"test": "datum.s == 'Obs'", "value": 1.2}, "value": 5}
          }
        },
        {
          "data": {"values": [{}]},
          "mark": {"type": "text", "text": "(d)", "align": "right", "baseline": "alphabetic", "font": "Liberation Sans", "fontSize": 28, "fontWeight": "bold", "color": "#000000"},
          "encoding": {
            "x": {"datum": 3.61, "type": "quantitative",
              "axis": {"orient": "top", "values": [0,0.2,0.4,0.6,0.8,1,1.2,1.4,1.6,1.8,2,2.2,2.4,2.6,2.8,3,3.2,3.4,3.6,3.8,4],
                "tickSize": {"condition": {"test": "abs(datum.value-round(datum.value))<0.001", "value": -12}, "value": -7},
                "tickWidth": {"condition": {"test": "abs(datum.value-round(datum.value))<0.001", "value": 2}, "value": 1.5},
                "labels": false, "title": null}},
            "y": {"datum": 0.12, "type": "quantitative",
              "axis": {"orient": "right", "values": [0,0.1,0.2,0.3,0.4,0.5,0.6,0.7,0.8,0.9,1,1.1,1.2,1.3,1.4,1.5,1.6,1.7,1.8,1.9,2],
                "tickSize": {"condition": {"test": "abs(datum.value*2-round(datum.value*2))<0.001", "value": -12}, "value": -7},
                "tickWidth": {"condition": {"test": "abs(datum.value*2-round(datum.value*2))<0.001", "value": 2}, "value": 1.5},
                "labels": false, "title": null}}
          }
        }
      ],
      "resolve": {"axis": {"x": "independent", "y": "independent"}}
    },
    {
      "width": 388, "height": 388,
      "layer": [
        {
          "data": {"name": "e"},
          "mark": {"type": "line", "orient": "horizontal", "strokeJoin": "round"},
          "encoding": {
            "x": {"field": "x", "type": "quantitative", "scale": {"domain": [0, 350], "nice": false, "zero": false},
              "axis": {"orient": "bottom", "values": [0,20,40,60,80,100,120,140,160,180,200,220,240,260,280,300,320,340],
                "tickSize": {"condition": {"test": "datum.value % 100 == 0", "value": -12}, "value": -7},
                "tickWidth": {"condition": {"test": "datum.value % 100 == 0", "value": 2}, "value": 1.5},
                "labelExpr": "datum.value % 100 == 0 ? format(datum.value,'d') : ''",
                "labelPadding": 24, "title": "in-cloud drop number (cm⁻³)", "titlePadding": 9, "titleX": 199}},
            "y": {"field": "h", "type": "quantitative", "scale": {"domain": [0, 2], "nice": false},
              "axis": {"orient": "left", "values": [0,0.1,0.2,0.3,0.4,0.5,0.6,0.7,0.8,0.9,1,1.1,1.2,1.3,1.4,1.5,1.6,1.7,1.8,1.9,2],
                "tickSize": {"condition": {"test": "abs(datum.value*2-round(datum.value*2))<0.001", "value": -12}, "value": -7},
                "tickWidth": {"condition": {"test": "abs(datum.value*2-round(datum.value*2))<0.001", "value": 2}, "value": 1.5},
                "labelExpr": "abs(datum.value*2-round(datum.value*2))<0.001 ? format(datum.value,'.1f') : ''",
                "labelPadding": 23, "title": null}},
            "color": {"field": "s", "type": "nominal",
              "scale": {"domain": ["MVD", "LES", "Obs"], "range": ["#0000ff", "#ff0000", "#000000"]},
              "legend": {"orient": "none", "legendX": 46, "legendY": 21, "title": null, "padding": 0, "rowPadding": 4,
                "symbolSize": 100, "symbolStrokeWidth": 5, "labelOffset": 6, "labelLimit": 400, "labelFont": "Liberation Sans", "labelFontSize": 19.5, "labelColor": "#000000",
                "labelExpr": "datum.value == 'MVD' ? 'MVD PDF ( L101, Ni=0.16 L⁻¹)' : datum.value == 'LES' ? 'COAMPS LES' : 'Obs.'",
                "encode": {"symbols": {"update": {
                  "shape": {"value": "M-6.4,0H2"},
                  "strokeWidth": {"signal": "datum.value == 'Obs' ? 1.2 : 5"},
                  "fill": {"value": "#000000"}}}}}},
            "strokeWidth": {"condition": {"test": "datum.s == 'Obs'", "value": 1.2}, "value": 5}
          }
        },
        {
          "data": {"values": [{}]},
          "mark": {"type": "text", "text": "(e)", "align": "right", "baseline": "alphabetic", "font": "Liberation Sans", "fontSize": 28, "fontWeight": "bold", "color": "#000000"},
          "encoding": {
            "x": {"datum": 327, "type": "quantitative",
              "axis": {"orient": "top", "values": [0,20,40,60,80,100,120,140,160,180,200,220,240,260,280,300,320,340],
                "tickSize": {"condition": {"test": "datum.value % 100 == 0", "value": -12}, "value": -7},
                "tickWidth": {"condition": {"test": "datum.value % 100 == 0", "value": 2}, "value": 1.5},
                "labels": false, "title": null}},
            "y": {"datum": 0.12, "type": "quantitative",
              "axis": {"orient": "right", "values": [0,0.1,0.2,0.3,0.4,0.5,0.6,0.7,0.8,0.9,1,1.1,1.2,1.3,1.4,1.5,1.6,1.7,1.8,1.9,2],
                "tickSize": {"condition": {"test": "abs(datum.value*2-round(datum.value*2))<0.001", "value": -12}, "value": -7},
                "tickWidth": {"condition": {"test": "abs(datum.value*2-round(datum.value*2))<0.001", "value": 2}, "value": 1.5},
                "labels": false, "title": null}}
          }
        }
      ],
      "resolve": {"axis": {"x": "independent", "y": "independent"}}
    },
    {
      "width": 388, "height": 388,
      "layer": [
        {
          "data": {"name": "f"},
          "mark": {"type": "line", "orient": "horizontal", "strokeJoin": "round", "strokeWidth": 5},
          "encoding": {
            "x": {"field": "x", "type": "quantitative", "scale": {"domain": [0, 1], "nice": false, "zero": false},
              "axis": {"orient": "bottom", "values": [0,0.1,0.2,0.3,0.4,0.5,0.6,0.7,0.8,0.9,1],
                "tickSize": {"condition": {"test": "abs(datum.value*5-round(datum.value*5))<0.001", "value": -12}, "value": -7},
                "tickWidth": {"condition": {"test": "abs(datum.value*5-round(datum.value*5))<0.001", "value": 2}, "value": 1.5},
                "labelExpr": "abs(datum.value*5-round(datum.value*5))<0.001 ? format(datum.value,'.1f') : ''",
                "labelPadding": 24, "title": "w′² (m² s⁻²)", "titlePadding": 9, "titleX": 216}},
            "y": {"field": "h", "type": "quantitative", "scale": {"domain": [0, 2], "nice": false},
              "axis": {"orient": "left", "values": [0,0.1,0.2,0.3,0.4,0.5,0.6,0.7,0.8,0.9,1,1.1,1.2,1.3,1.4,1.5,1.6,1.7,1.8,1.9,2],
                "tickSize": {"condition": {"test": "abs(datum.value*2-round(datum.value*2))<0.001", "value": -12}, "value": -7},
                "tickWidth": {"condition": {"test": "abs(datum.value*2-round(datum.value*2))<0.001", "value": 2}, "value": 1.5},
                "labelExpr": "abs(datum.value*2-round(datum.value*2))<0.001 ? format(datum.value,'.1f') : ''",
                "labelPadding": 23, "title": null}},
            "color": {"field": "s", "type": "nominal",
              "scale": {"domain": ["MVD", "LES"], "range": ["#0000ff", "#ff0000"]},
              "legend": {"orient": "none", "legendX": 44.5, "legendY": 21, "title": null, "padding": 0, "rowPadding": 6,
                "symbolSize": 100, "symbolStrokeWidth": 5, "labelOffset": 6, "labelLimit": 400, "labelFont": "Liberation Sans", "labelFontSize": 19.5, "labelColor": "#000000",
                "labelExpr": "datum.value == 'MVD' ? 'MVD PDF ( L101, Ni=0.16 L⁻¹)' : 'COAMPS LES'",
                "encode": {"symbols": {"update": {
                  "shape": {"value": "M-6.4,0H2"},
                  "strokeWidth": {"value": 5},
                  "fill": {"value": "#000000"}}}}}}
          }
        },
        {
          "data": {"values": [{}]},
          "mark": {"type": "text", "text": "(f)", "align": "right", "baseline": "alphabetic", "font": "Liberation Sans", "fontSize": 28, "fontWeight": "bold", "color": "#000000"},
          "encoding": {
            "x": {"datum": 0.935, "type": "quantitative",
              "axis": {"orient": "top", "values": [0,0.1,0.2,0.3,0.4,0.5,0.6,0.7,0.8,0.9,1],
                "tickSize": {"condition": {"test": "abs(datum.value*5-round(datum.value*5))<0.001", "value": -12}, "value": -7},
                "tickWidth": {"condition": {"test": "abs(datum.value*5-round(datum.value*5))<0.001", "value": 2}, "value": 1.5},
                "labels": false, "title": null}},
            "y": {"datum": 0.12, "type": "quantitative",
              "axis": {"orient": "right", "values": [0,0.1,0.2,0.3,0.4,0.5,0.6,0.7,0.8,0.9,1,1.1,1.2,1.3,1.4,1.5,1.6,1.7,1.8,1.9,2],
                "tickSize": {"condition": {"test": "abs(datum.value*2-round(datum.value*2))<0.001", "value": -12}, "value": -7},
                "tickWidth": {"condition": {"test": "abs(datum.value*2-round(datum.value*2))<0.001", "value": 2}, "value": 1.5},
                "labels": false, "title": null}}
          }
        }
      ],
      "resolve": {"axis": {"x": "independent", "y": "independent"}}
    }
  ],
  "resolve": {"scale": {"color": "independent"}},
  "config": {
    "font": "Liberation Sans",
    "view": {"stroke": "#000000", "strokeWidth": 2},
    "axis": {"domain": false, "grid": false, "tickColor": "#000000", "labelColor": "#000000", "labelFont": "Liberation Sans", "labelFontSize": 17.5, "labelFlush": false, "labelOverlap": false, "titleColor": "#000000", "titleFont": "Liberation Sans", "titleFontWeight": "normal", "titleFontSize": 23.5}
  }
}
